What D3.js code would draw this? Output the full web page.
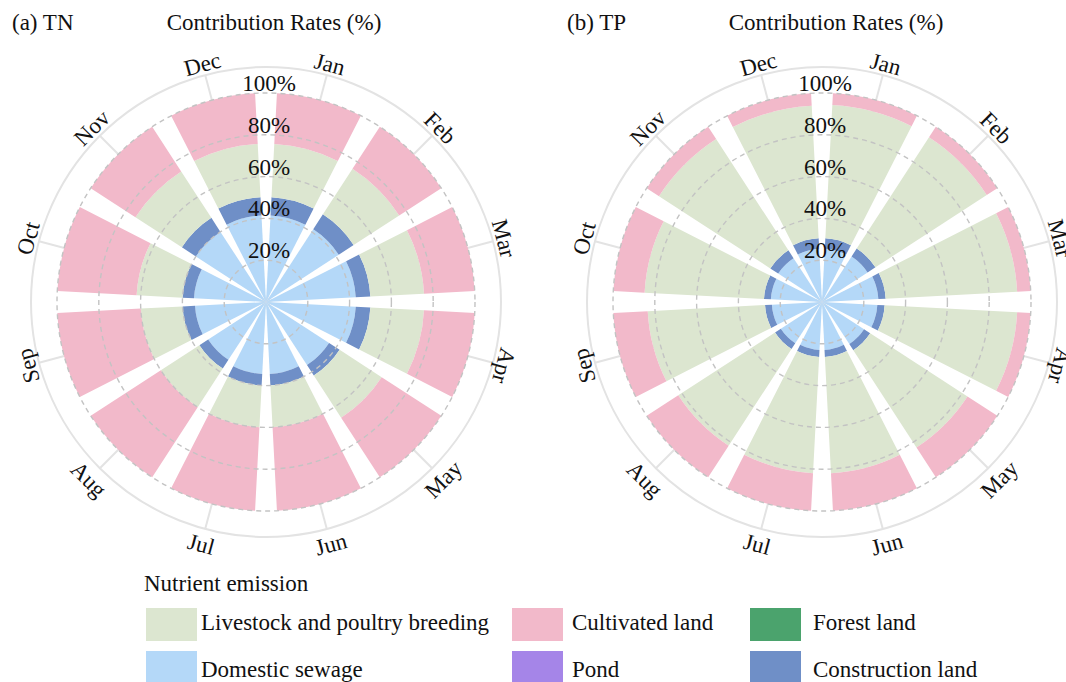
<!DOCTYPE html>
<html>
<head>
<meta charset="utf-8">
<script src="https://cdn.jsdelivr.net/npm/d3@7"></script>
<style>
  body { margin: 0; background: #fff; }
  text { font-family: "Liberation Serif", "Times New Roman", serif; fill: #111; }
</style>
</head>
<body>
<svg id="chart" width="1066" height="682"></svg>
<script>
// Months around the circle
const months = ["Jan", "Feb", "Mar", "Apr", "May", "Jun", "Jul", "Aug", "Sep", "Oct", "Nov", "Dec"];

// Radial ticks (contribution rate, %)
const rateTicks = [20, 40, 60, 80, 100];

// Emission sources, stacked from the centre outward
const sources = ["Domestic sewage", "Construction land", "Pond", "Forest land",
                 "Livestock and poultry breeding", "Cultivated land"];

// (a) TN contribution rates (%) by month
const tnSewage       = [41.5, 41.5, 43.0, 43.0, 36.0, 34.5, 34.5, 33.0, 34.0, 34.5, 40.0, 41.5];
const tnConstruction = [ 8.7,  8.5,  7.0,  7.0,  6.0,  5.5,  5.5,  5.0,  6.0,  5.5,  8.0,  8.7];
const tnPond         = [ 0,    0,    0,    0,    0,    0,    0,    0,    0,    0,    0,    0  ];
const tnForest       = [ 0,    0,    0,    0,    0,    0,    0,    0,    0,    0,    0,    0  ];
const tnLivestock    = [25.5, 26.0, 25.7, 25.7, 24.0, 20.0, 20.0, 22.0, 20.0, 22.0, 26.5, 25.5];
const tnCultivated   = [24.3, 24.0, 24.3, 24.3, 34.0, 40.0, 40.0, 40.0, 40.0, 38.0, 25.5, 24.3];

// (b) TP contribution rates (%) by month
const tpSewage       = [25.5, 26.0, 27.0, 26.5, 24.0, 23.0, 23.0, 23.5, 24.0, 24.5, 25.0, 25.5];
const tpConstruction = [ 5.0,  4.5,  3.5,  3.5,  3.5,  3.3,  3.3,  3.3,  3.3,  3.3,  4.5,  5.0];
const tpPond         = [ 0,    0,    0,    0,    0,    0,    0,    0,    0,    0,    0,    0  ];
const tpForest       = [ 0,    0,    0,    0,    0,    0,    0,    0,    0,    0,    0,    0  ];
const tpLivestock    = [63.9, 63.5, 63.0, 63.5, 55.5, 55.7, 55.7, 55.2, 56.2, 57.2, 63.5, 63.5];
const tpCultivated   = [ 5.6,  6.0,  6.5,  6.5, 17.0, 18.0, 18.0, 18.0, 16.5, 15.0,  7.0,  6.0];

const colors = {
  "Domestic sewage": "#b4d8f8",
  "Construction land": "#6f8fc7",
  "Pond": "#a585e8",
  "Forest land": "#4ba36d",
  "Livestock and poultry breeding": "#dce6d0",
  "Cultivated land": "#f2b9ca"
};

function buildRows(sew, con, pond, forest, live, cult) {
  return months.map((m, i) => ({
    month: m,
    "Domestic sewage": sew[i],
    "Construction land": con[i],
    "Pond": pond[i],
    "Forest land": forest[i],
    "Livestock and poultry breeding": live[i],
    "Cultivated land": cult[i]
  }));
}

const tnRows = buildRows(tnSewage, tnConstruction, tnPond, tnForest, tnLivestock, tnCultivated);
const tpRows = buildRows(tpSewage, tpConstruction, tpPond, tpForest, tpLivestock, tpCultivated);

const svg = d3.select("#chart");
const FONT = "23px";

const R100 = 209;     // radius of the 100 % circle
const ROUTER = 235;   // outer frame circle

const angle = d3.scaleBand().domain(months).range([0, 2 * Math.PI])
  .paddingInner(0.2).paddingOuter(0.1);
const radius = d3.scaleLinear().domain([0, 100]).range([0, R100]);

const stack = d3.stack().keys(sources);

function drawPanel(cx, cy, rows, tag, tagX, titleX) {
  const g = svg.append("g").attr("transform", `translate(${cx},${cy})`);

  // outer frame circle
  g.append("circle").attr("r", ROUTER)
    .attr("fill", "none").attr("stroke", "#e3e3e3").attr("stroke-width", 2);

  // spokes at each month centre (visible in the outer ring)
  g.selectAll("line.spoke").data(months).join("line")
    .attr("class", "spoke")
    .attr("x1", 0).attr("y1", 0)
    .attr("x2", m => ROUTER * Math.sin(angle(m) + angle.bandwidth() / 2))
    .attr("y2", m => -ROUTER * Math.cos(angle(m) + angle.bandwidth() / 2))
    .attr("stroke", "#e3e3e3").attr("stroke-width", 2);

  // stacked bars
  const series = stack(rows);
  const arc = d3.arc()
    .innerRadius(d => radius(d[0]))
    .outerRadius(d => radius(d[1]))
    .startAngle(d => angle(d.data.month))
    .endAngle(d => angle(d.data.month) + angle.bandwidth());

  g.selectAll("g.layer").data(series).join("g")
    .attr("class", "layer")
    .attr("fill", s => colors[s.key])
    .selectAll("path").data(s => s).join("path")
    .attr("d", arc);

  // dashed rate circles drawn over the bars
  g.selectAll("circle.grid").data(rateTicks).join("circle")
    .attr("class", "grid")
    .attr("r", d => radius(d))
    .attr("fill", "none").attr("stroke", "#c3c3c3")
    .attr("stroke-width", 1.4).attr("stroke-dasharray", "5,4");

  // rate labels along the top
  g.selectAll("text.rate").data(rateTicks).join("text")
    .attr("class", "rate")
    .attr("x", 3).attr("y", d => -radius(d) - 2)
    .attr("text-anchor", "middle")
    .style("font-size", FONT)
    .text(d => d + "%");

  // month labels, turned along the circle
  g.selectAll("text.month").data(months).join("text")
    .attr("class", "month")
    .each(function (m) {
      const a = (angle(m) + angle.bandwidth() / 2) * 180 / Math.PI;
      const flip = a > 120 && a < 240;
      const r = flip ? 251 : 246;
      const rad = a * Math.PI / 180;
      const x = r * Math.sin(rad), y = -r * Math.cos(rad);
      d3.select(this)
        .attr("transform", `translate(${x},${y}) rotate(${flip ? a - 180 : a})`)
        .attr("text-anchor", "middle")
        .attr("dominant-baseline", "central")
        .style("font-size", FONT)
        .text(m);
    });

  // panel tag and axis title
  svg.append("text").attr("x", tagX).attr("y", 30)
    .style("font-size", FONT).text(tag);
  svg.append("text").attr("x", titleX).attr("y", 30)
    .attr("text-anchor", "middle")
    .style("font-size", FONT).text("Contribution Rates (%)");
}

drawPanel(266, 302, tnRows, "(a) TN", 12, 274);
drawPanel(822, 302, tpRows, "(b) TP", 567, 836);

// legend
const legendRows = [
  ["Livestock and poultry breeding", "Cultivated land", "Forest land"],
  ["Domestic sewage", "Pond", "Construction land"]
];
const legendColX = [146, 512, 750];
const legendTextX = [201, 572, 813];
const legendRowY = [608, 651];

svg.append("text").attr("x", 144).attr("y", 591)
  .style("font-size", FONT).text("Nutrient emission");

const lg = svg.append("g");
legendRows.forEach((row, ri) => {
  row.forEach((key, ci) => {
    lg.append("rect")
      .attr("x", legendColX[ci]).attr("y", legendRowY[ri])
      .attr("width", 51).attr("height", 33)
      .attr("fill", colors[key]);
    lg.append("text")
      .attr("x", legendTextX[ci])
      .attr("y", legendRowY[ri] + (ri === 0 ? 14 : 18))
      .attr("dominant-baseline", "central")
      .style("font-size", FONT)
      .text(key);
  });
});
</script>
</body>
</html>
